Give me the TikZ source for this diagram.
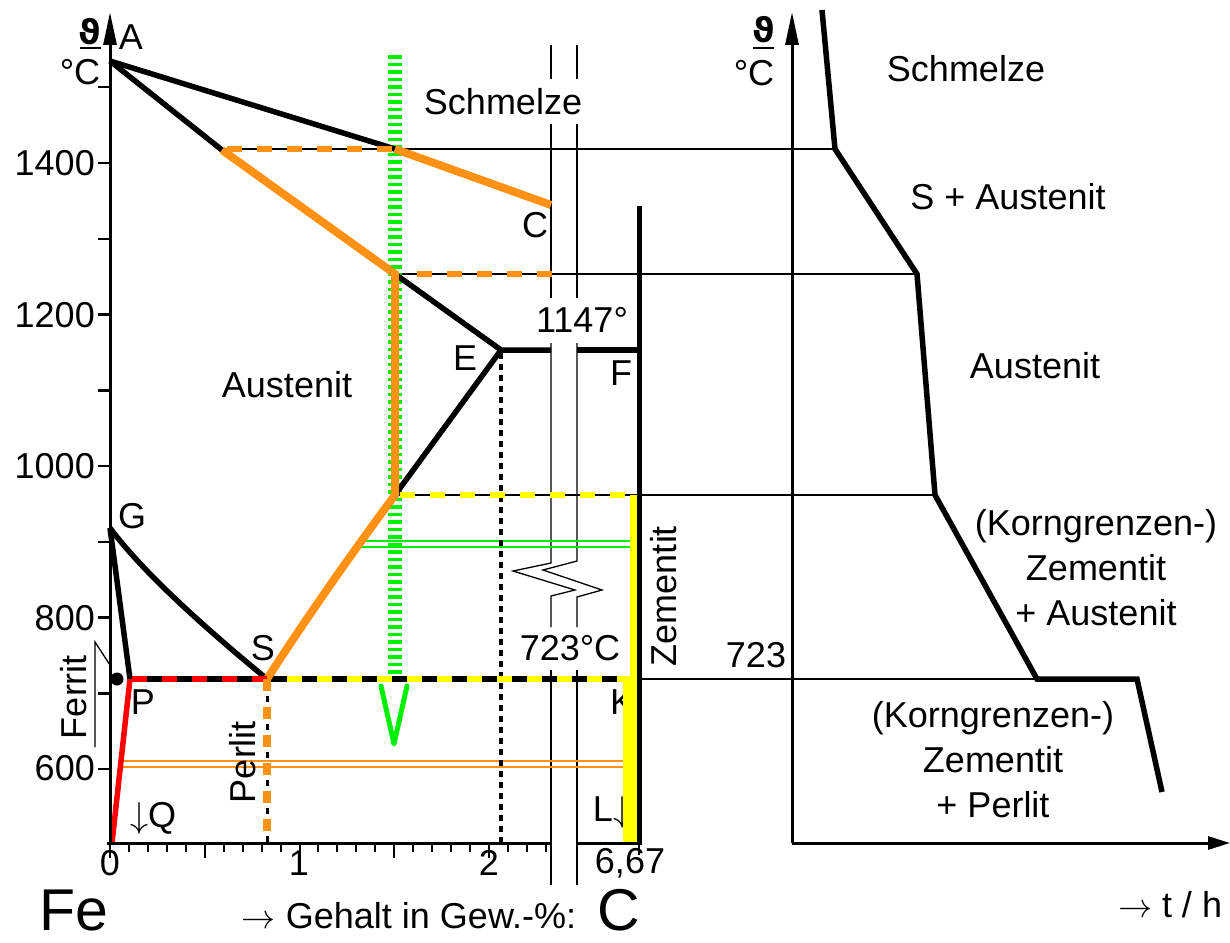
\RequirePackage{fix-cm}
\documentclass[tikz,border=0pt]{standalone}
\usepackage{fontspec}
\setmainfont{Liberation Sans}
\newfontfamily\djv{DejaVu Sans}
\usetikzlibrary{arrows.meta}
\definecolor{myor}{RGB}{255,145,20}
\definecolor{mygr}{RGB}{0,240,0}
\definecolor{myye}{RGB}{255,255,0}
\definecolor{myre}{RGB}{255,0,0}
\newcommand{\rarr}{{\fontsize{34}{36}\selectfont$\rightarrow$}}
\newcommand{\darr}{{\fontsize{36}{38}\selectfont$\downarrow$}}
\begin{document}
\begin{tikzpicture}[x=1pt,y=-1pt,
  thinline/.style={line width=1.3pt},
  thk/.style={line width=5.5pt},
  axisline/.style={line width=3pt},
  lbl/.style={inner sep=0pt, font=\fontsize{36}{40}\selectfont},
  big/.style={inner sep=0pt, font=\fontsize{59}{62}\selectfont},
  odash/.style={myor, line width=6.5pt, dash pattern=on 15pt off 15pt},
  ydash/.style={myye, line width=6.5pt, dash pattern=on 15pt off 15pt},
  thfont/.style={inner sep=0pt, font=\fontsize{34}{36}\selectfont\djv\bfseries},
  ]
\fill[white] (0,0) rectangle (1230,942);
\useasboundingbox (0,0) rectangle (1230,942);

% key points
\coordinate (A) at (110,61);
\coordinate (L1) at (395,149);
\coordinate (Cp) at (551,205);
\coordinate (S1) at (222,150);
\coordinate (S2) at (395,274);
\coordinate (E) at (501,350);
\coordinate (Fp) at (639,350);
\coordinate (Ap) at (395,495);
\coordinate (G) at (110,528);
\coordinate (P) at (130,679);
\coordinate (S) at (267,679);
\coordinate (K) at (636,679);
\coordinate (Q) at (112,843);

% thin horizontal helper lines
\draw[thinline] (222,149) -- (835,149);
\draw[thinline] (395,274) -- (917,274);
\draw[thinline] (395,495) -- (935,495);
\draw[thinline] (630,679) -- (1037,679);

% axis break lines
\foreach \x in {551,577} {
  \draw[thinline] (\x,45) -- (\x,79);
  \draw[thinline] (\x,124) -- (\x,298);
  \draw[thinline] (\x,670) -- (\x,885);
}
\draw[thinline] (551,343) -- (551,563) -- (513,571) -- (575,590) -- (551,596) -- (551,627);
\draw[thinline] (577,343) -- (577,561) -- (543,570) -- (602,590) -- (577,597) -- (577,627);

% green and orange double lines
\draw[mygr, line width=1.5pt] (358,541) -- (640,541);
\draw[mygr, line width=1.5pt] (358,547) -- (640,547);
\draw[myor, line width=1.5pt] (122,761) -- (628,761);
\draw[myor, line width=1.5pt] (121,767) -- (628,767);

% green dotted path
\draw[mygr, line width=14pt, dash pattern=on 3.8pt off 3.7pt] (395,55) -- (395,680);
\draw[mygr, line width=5pt, line cap=round, line join=round] (381,686) -- (394,744) -- (407,686);

% black phase lines
\draw[thk] (A) -- (L1);
\draw[thk] (A) -- (S1);
\draw[thk] (S2) -- (E) -- (551,350);
\draw[thk] (577,350) -- (Fp);
\draw[thk] (E) -- (Ap);
\draw[thk] (G) -- (P);
\draw[thk] (G) .. controls (145,575) and (210,632) .. (S);
\draw[thk] (P) -- (K);
\draw[line width=4pt, dash pattern=on 6pt off 5pt] (501,353) -- (501,843);

% K and L labels (partly covered by yellow)
\node[lbl] (Klbl) at (622,702) {K};
\node[lbl] (Llbl) at (612,812) {L\darr};

% orange lines
\draw[myor, line width=8pt] (L1) -- (Cp);
\draw[myor, line width=8pt] (S1) -- (S2) -- (Ap) .. controls (352,553) and (307,617) .. (S);
\draw[odash] (227,149) -- (393,149);
\draw[odash] (417,274) -- (552,274);

% yellow lines
\draw[ydash] (400,495) -- (630,495);
\draw[myre, line width=6pt, dash pattern=on 15pt off 15pt] (S) -- (P);
\draw[myre, line width=5.5pt] (P) -- (Q);
\draw[myye, line width=6pt, dash pattern=on 15pt off 15pt, dash phase=15pt] (272,679) -- (630,679);
\fill[myye] (630,495) rectangle (637,679);
\fill[myye] (623,679) rectangle (637,843);
\draw[line width=5.5pt] (639.5,206) -- (639.5,843);

% Perlit line
\draw[line width=3pt, dash pattern=on 6pt off 22pt, dash phase=11pt] (267,679) -- (267,843);
\draw[myor, line width=8pt, dash pattern=on 12pt off 16pt] (267,679) -- (267,843);

% ferrit marker
\fill (117,679) circle (6.5);
\draw[thinline] (110,665) -- (95,642) -- (95,747);

% left axes
\draw[axisline, -{Triangle[length=33pt,width=13pt]}] (110,843) -- (110,12);
\draw[axisline] (107,843) -- (551,843);
\draw[axisline] (577,843) -- (642,843);
\foreach \t in {600,700,...,1500}
  \draw[line width=2.5pt] (98,{163+(1400-\t)*0.7575}) -- (110,{163+(1400-\t)*0.7575});
\foreach \i in {0,...,23}
  \draw[line width=2pt] ({110+\i*18.95},843) -- ({110+\i*18.95},852);
\foreach \i in {0,5,10,15,20}
  \draw[line width=2pt] ({110+\i*18.95},843) -- ({110+\i*18.95},858);
\draw[line width=2pt] (639,843) -- (639,855);

% right diagram
\draw[axisline, -{Triangle[length=33pt,width=13pt]}] (792,843) -- (792,12);
\draw[axisline, -{Triangle[length=22pt,width=13pt]}] (792,843) -- (1230,843);
\draw[line width=5.5pt] (822,10) -- (835,149) -- (917,274) -- (935,495) -- (1037,679) -- (1137,679) -- (1162,792);

% left labels
\node[thfont] (th1) at (90,32) {ϑ};
\draw[line width=2pt] (80,48) -- (101,48);
\node[lbl] (dc1) at (80,72) {°C};
\node[lbl] (lA) at (131,37) {A};
\node[lbl, anchor=east] (y1400) at (95,163) {1400};
\node[lbl, anchor=east] (y1200) at (95,315) {1200};
\node[lbl, anchor=east] (y1000) at (95,466) {1000};
\node[lbl, anchor=east] (y800) at (95,618) {800};
\node[lbl, anchor=east] (y600) at (95,768) {600};
\node[lbl] (lschm) at (503,102) {Schmelze};
\node[lbl] (lC) at (535,225) {C};
\node[lbl] (l1147) at (582,320) {1147°};
\node[lbl] (lE) at (465,358) {E};
\node[lbl] (lF) at (621,373) {F};
\node[lbl] (laust) at (287,385) {Austenit};
\node[lbl] (lG) at (132,516) {G};
\node[lbl] (lS) at (263,648) {S};
\node[lbl] (lP) at (143,702) {P};
\node[lbl] (l723) at (570,648) {723°C};
\node[lbl, rotate=90] (lzem) at (664,596) {Zementit};
\node[lbl, rotate=90] (lper) at (243,762) {Perlit};
\node[lbl, rotate=90] (lfer) at (74,697) {Ferrit};
\node[lbl] (lQ) at (153,818) {\darr Q};
\node[lbl] (x0) at (110,863) {0};
\node[lbl] (x1) at (299,863) {1};
\node[lbl] (x2) at (489,863) {2};
\node[lbl] (x667) at (630,863) {6,67};
\node[big] (lFe) at (74,910) {Fe};
\node[lbl] (lgeh) at (409,916) {\rarr\ Gehalt in Gew.-\%:};
\node[big] (lCC) at (619,910) {C};

% right labels
\node[thfont] (th2) at (764,30) {ϑ};
\draw[line width=2pt] (753,48) -- (774,48);
\node[lbl] (dc2) at (754,73) {°C};
\node[lbl] (rschm) at (966,69) {Schmelze};
\node[lbl] (rsa) at (1008,197) {S + Austenit};
\node[lbl] (raust) at (1035,366) {Austenit};
\node[lbl, align=center, font=\fontsize{36}{45}\selectfont] (rkz1) at (1096,568) {(Korngrenzen-)\\Zementit\\+ Austenit};
\node[lbl] (r723) at (756,655) {723};
\node[lbl, align=center, font=\fontsize{36}{45}\selectfont] (rkz2) at (993,760) {(Korngrenzen-)\\Zementit\\+ Perlit};
\node[lbl] (rth) at (1170,905) {\rarr\ t / h};
\end{tikzpicture}
\end{document}
